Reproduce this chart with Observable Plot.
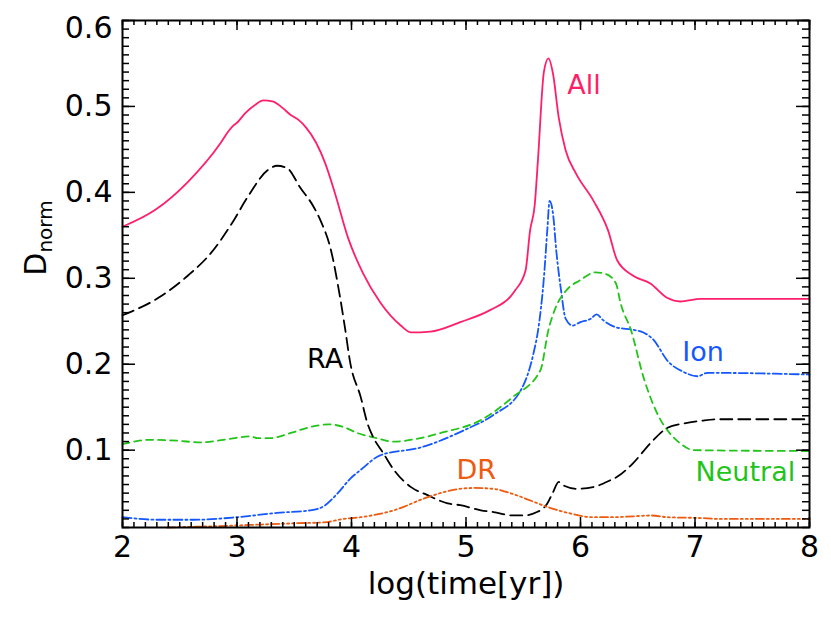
<!DOCTYPE html>
<html>
<head>
<meta charset="utf-8">
<script src="https://cdn.jsdelivr.net/npm/d3@7"></script>
<script src="https://cdn.jsdelivr.net/npm/@observablehq/plot@0.6"></script>
<style>
  html, body { margin: 0; padding: 0; background: #fff; }
  #chart { width: 831px; height: 619px; }
</style>
</head>
<body>
<div id="chart"></div>
<script>
// ---- data: [log(time[yr]), D_norm] ----
const allSeries = [
  [2.00,0.360],[2.29,0.380],[2.57,0.412],[2.86,0.458],[2.93,0.472],[2.97,0.478],[3.00,0.481],
  [3.07,0.492],[3.16,0.502],[3.23,0.507],[3.31,0.506],[3.40,0.498],[3.47,0.490],
  [3.54,0.484],[3.60,0.476],[3.69,0.458],[3.77,0.434],[3.86,0.397],[3.97,0.347],
  [4.10,0.306],[4.25,0.272],[4.43,0.245],[4.52,0.237],[4.69,0.238],[4.95,0.249],
  [5.21,0.263],[5.39,0.279],[5.43,0.286],[5.52,0.309],[5.56,0.356],[5.60,0.385],
  [5.63,0.441],[5.68,0.540],[5.72,0.556],[5.76,0.538],[5.81,0.487],[5.87,0.449],
  [5.96,0.422],[6.11,0.391],[6.24,0.356],[6.32,0.321],[6.46,0.303],[6.61,0.294],
  [6.76,0.277],[6.87,0.273],[7.05,0.276],[8.00,0.276]
];
const ionSeries = [
  [2.00,0.022],[2.31,0.019],[2.62,0.019],[3.00,0.022],[3.35,0.027],[3.64,0.030],
  [3.76,0.035],[3.88,0.050],[3.99,0.067],[4.08,0.077],[4.25,0.094],[4.60,0.103],
  [4.98,0.123],[5.24,0.141],[5.48,0.170],[5.59,0.213],[5.63,0.240],[5.68,0.300],
  [5.71,0.356],[5.73,0.390],[5.76,0.375],[5.79,0.330],[5.83,0.286],[5.87,0.253],
  [5.93,0.245],[6.00,0.249],[6.09,0.253],[6.14,0.258],[6.20,0.251],[6.31,0.243],
  [6.46,0.240],[6.55,0.237],[6.64,0.228],[6.76,0.204],[6.90,0.191],[7.02,0.186],
  [7.11,0.190],[8.00,0.188]
];
const neutralSeries = [
  [2.00,0.107],[2.24,0.112],[2.48,0.111],[2.68,0.109],[2.88,0.112],[3.12,0.116],
  [3.18,0.114],[3.29,0.114],[3.47,0.120],[3.64,0.127],[3.80,0.130],[3.93,0.127],
  [4.05,0.120],[4.19,0.115],[4.37,0.110],[4.60,0.114],[4.78,0.120],[5.13,0.135],
  [5.41,0.162],[5.65,0.193],[5.72,0.240],[5.78,0.265],[5.87,0.285],[6.00,0.298],
  [6.13,0.307],[6.22,0.305],[6.31,0.294],[6.35,0.271],[6.44,0.240],[6.55,0.185],
  [6.70,0.135],[6.76,0.123],[6.87,0.108],[6.99,0.100],[8.00,0.099]
];
const raSeries = [
  [2.00,0.257],[2.31,0.277],[2.57,0.303],[2.77,0.329],[2.97,0.367],[3.09,0.394],
  [3.27,0.426],[3.35,0.431],[3.44,0.428],[3.55,0.406],[3.67,0.383],[3.73,0.367],
  [3.82,0.333],[3.90,0.278],[3.94,0.245],[3.99,0.201],[4.08,0.162],[4.14,0.131],
  [4.19,0.115],[4.28,0.096],[4.37,0.077],[4.52,0.057],[4.66,0.048],[4.84,0.038],
  [4.95,0.036],[5.13,0.030],[5.24,0.028],[5.41,0.024],[5.50,0.024],[5.62,0.028],
  [5.71,0.038],[5.76,0.051],[5.81,0.063],[5.85,0.059],[5.97,0.055],[6.11,0.057],
  [6.26,0.065],[6.32,0.069],[6.46,0.085],[6.61,0.108],[6.76,0.126],[6.90,0.131],
  [7.05,0.134],[7.20,0.136],[8.00,0.136]
];
const drSeries = [
  [2.39,0.010],[2.66,0.011],[2.92,0.012],[3.12,0.013],[3.53,0.015],[3.76,0.016],
  [3.93,0.020],[4.08,0.022],[4.37,0.030],[4.66,0.045],[4.86,0.053],[5.07,0.056],
  [5.24,0.055],[5.41,0.049],[5.59,0.040],[5.71,0.034],[5.89,0.027],[6.11,0.022],
  [6.26,0.022],[6.46,0.023],[6.61,0.024],[6.76,0.022],[7.05,0.021],[7.20,0.020],
  [8.00,0.020]
];
const seriesNames = ["All", "Ion", "Neutral", "RA", "DR"];
const seriesColors = ["#ff1f68", "#1457ff", "#22c41a", "#000000", "#ee5a0e"];
const seriesDash = [null, "9,3,2,3", "7,5", "12,6", "8,3,2,3,2,3,2,3"];
// label anchor positions in data units
const labelX = [6.03, 7.07, 7.44, 3.77, 5.09];
const labelY = [0.524, 0.214, 0.074, 0.206, 0.077];

const xMajor = [2, 3, 4, 5, 6, 7, 8];
const yMajor = [0.1, 0.2, 0.3, 0.4, 0.5, 0.6];
const xMinor = d3.range(20, 81).map(i => i / 10);
const yMinor = d3.range(1, 61).map(i => i / 100);
const xLabel = "log(time[yr])";
const xDomain = [2, 8];
const yDomain = [0.01, 0.6];

const W = 831, H = 619, mL = 122, mR = 22, mT = 20, mB = 92;
const plotW = W - mL - mR, plotH = H - mT - mB;

const seriesData = [allSeries, ionSeries, neutralSeries, raSeries, drSeries];

const lineMarks = seriesData.map((s, i) => Plot.line(s, {
  x: d => d[0], y: d => d[1],
  stroke: seriesColors[i], strokeWidth: 1.8,
  strokeDasharray: seriesDash[i] ?? undefined,
  curve: "monotone-x"
}));

const labelData = seriesNames.map((n, i) => ({name: n, x: labelX[i], y: labelY[i], color: seriesColors[i]}));

const tickStyle = {stroke: "#000", strokeWidth: 1.5};
const fs = 27, tfs = 30;
const plot = Plot.plot({
  width: W, height: H,
  marginLeft: mL, marginRight: mR, marginTop: mT, marginBottom: mB,
  x: {domain: xDomain},
  y: {domain: yDomain},
  style: {fontFamily: "DejaVu Sans", background: "#fff", color: "#000"},
  marks: [
    ...lineMarks,
    Plot.text(labelData, {x: "x", y: "y", text: "name", fill: d => d.color, fontSize: fs, textAnchor: "middle"}),
    // inward ticks on all four sides
    Plot.ruleX(xMajor, {x: d => d, insetTop: plotH - 10, ...tickStyle}),
    Plot.ruleX(xMinor, {x: d => d, insetTop: plotH - 5, ...tickStyle}),
    Plot.ruleX(xMajor, {x: d => d, insetBottom: plotH - 10, ...tickStyle}),
    Plot.ruleX(xMinor, {x: d => d, insetBottom: plotH - 5, ...tickStyle}),
    Plot.ruleY(yMajor, {y: d => d, insetRight: plotW - 13, ...tickStyle}),
    Plot.ruleY(yMinor, {y: d => d, insetRight: plotW - 7, ...tickStyle}),
    Plot.ruleY(yMajor, {y: d => d, insetLeft: plotW - 13, ...tickStyle}),
    Plot.ruleY(yMinor, {y: d => d, insetLeft: plotW - 7, ...tickStyle}),
    // tick labels
    Plot.axisX(xMajor, {anchor: "bottom", tickSize: 0, tickPadding: 8, fontSize: tfs, label: null, tickFormat: d => String(d)}),
    Plot.axisY(yMajor.slice(0, 5), {anchor: "left", tickSize: 0, tickPadding: 10, fontSize: tfs, label: null, tickFormat: d => d.toFixed(1)}),
    Plot.axisY(yMajor.slice(5), {anchor: "left", tickSize: 0, tickPadding: 10, dy: 8, fontSize: tfs, label: null, tickFormat: d => d.toFixed(1)}),
    Plot.text([xLabel], {frameAnchor: "bottom", dy: 57, text: d => d, fontSize: 31, lineAnchor: "middle"}),
    Plot.frame({stroke: "#000", strokeWidth: 2})
  ]
});
document.getElementById("chart").appendChild(plot);

// y-axis title with subscript
const svg = d3.select(plot);
const yt = svg.append("text")
  .attr("transform", "translate(46,238) rotate(-90)")
  .attr("text-anchor", "middle")
  .attr("font-family", "DejaVu Sans")
  .attr("font-size", 30)
  .attr("fill", "#000");
yt.append("tspan").text("D");
yt.append("tspan").attr("font-size", 20).attr("dy", "0.3em").text("norm");
</script>
</body>
</html>
